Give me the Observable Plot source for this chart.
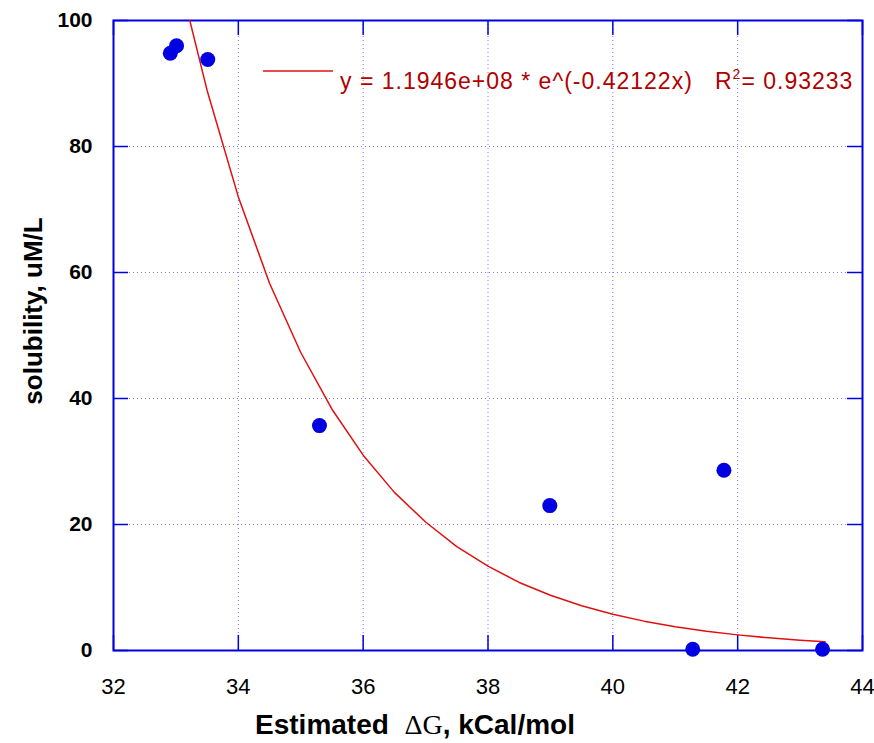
<!DOCTYPE html>
<html><head><meta charset="utf-8">
<script src="https://cdn.jsdelivr.net/npm/d3@7"></script>
<script src="https://cdn.jsdelivr.net/npm/@observablehq/plot@0.6"></script>
<style>body{margin:0;background:#fff}</style>
</head><body><div id="chart"></div>
<script>
// Observed points (Estimated ΔG, solubility)
const dG = [32.91, 33.01, 33.51, 35.30, 38.99, 41.78, 41.28, 43.36];
const solubility = [94.8, 96.0, 93.8, 35.7, 23.0, 28.6, 0.2, 0.2];
// Fitted curve
const fitX = [33.2, 33.5, 34, 34.5, 35, 35.5, 36, 36.5, 37, 37.5, 38, 38.5, 39, 39.5, 40, 40.5, 41, 41.5, 42, 42.5, 43, 43.4];
const fitY = [100.9, 88.9, 72.0, 58.3, 47.3, 38.3, 31.0, 25.1, 20.4, 16.5, 13.4, 10.8, 8.77, 7.10, 5.75, 4.66, 3.78, 3.06, 2.48, 2.01, 1.63, 1.37];
const xTicks = [32, 34, 36, 38, 40, 42, 44];
const yTicks = [0, 20, 40, 60, 80, 100];
const legendText = "y = 1.1946e+08 * e^(-0.42122x)   R";

const pts = dG.map((x, i) => ({x, y: solubility[i]}));
const fit = fitX.map((x, i) => ({x, y: fitY[i]}));
const blue = "#0000e0";
const xTickLen = 0.24, yTickLen = 2.4;

const chart = Plot.plot({
  width: 874, height: 743,
  marginLeft: 113, marginRight: 12, marginTop: 20, marginBottom: 93,
  x: {domain: [32, 44], ticks: xTicks, label: null},
  y: {domain: [0, 100], ticks: yTicks, label: null},
  style: {background: "#fff", overflow: "visible"},
  marks: [
    // dotted grid
    Plot.ruleX(xTicks.slice(1, -1), {stroke: "#6a6aff", strokeWidth: 1, strokeDasharray: "1,3", strokeOpacity: 0.9}),
    Plot.ruleY(yTicks.slice(1, -1), {stroke: "#6a6aff", strokeWidth: 1, strokeDasharray: "1,3", strokeOpacity: 0.9}),
    // inward ticks
    Plot.ruleX(xTicks, {y1: 0, y2: yTickLen, stroke: blue, strokeWidth: 1.5}),
    Plot.ruleX(xTicks, {y1: 100, y2: 100 - yTickLen, stroke: blue, strokeWidth: 1.5}),
    Plot.ruleY(yTicks, {x1: 32, x2: 32 + xTickLen, stroke: blue, strokeWidth: 1.5}),
    Plot.ruleY(yTicks, {x1: 44, x2: 44 - xTickLen, stroke: blue, strokeWidth: 1.5}),
    Plot.frame({stroke: blue, strokeWidth: 2}),
    Plot.axisX(xTicks, {tickSize: 0, tickPadding: 28, fontSize: 22, fill: "#000", label: null,
      fontFamily: "'Liberation Sans', Arial, sans-serif", fontWeight: "normal"}),
    Plot.axisY(yTicks, {tickSize: 0, tickPadding: 21, fontSize: 21, fill: "#000", label: null,
      fontFamily: "'Liberation Sans', Arial, sans-serif", fontWeight: "bold"}),
    Plot.line(fit, {x: "x", y: "y", stroke: "#e01010", strokeWidth: 1.5, clip: true}),
    Plot.dot(pts, {x: "x", y: "y", r: 7.5, fill: blue, stroke: "none"})
  ]
});

const svg = d3.select(chart);
// legend
const lg = svg.append("g");
lg.append("line").attr("x1", 263).attr("x2", 333).attr("y1", 71).attr("y2", 71)
  .attr("stroke", "#e01010").attr("stroke-width", 1.5);
const t = lg.append("text").attr("x", 340).attr("y", 89).attr("text-anchor", "start")
  .attr("fill", "#b00000").attr("font-size", 23).attr("letter-spacing", 1)
  .attr("font-family", "'Liberation Sans', Arial, sans-serif");
t.append("tspan").text(legendText.replace(/ /g, "\u00a0"));
t.append("tspan").attr("dy", -10).attr("font-size", 14).text("2");
t.append("tspan").attr("dy", 10).text("= 0.93233");
// axis titles
const xt = svg.append("text").attr("x", 415).attr("y", 734).attr("text-anchor", "middle")
  .attr("font-size", 28).attr("font-weight", "bold")
  .attr("font-family", "'Liberation Sans', Arial, sans-serif").attr("fill", "#000");
xt.append("tspan").text("Estimated\u00a0\u00a0");
xt.append("tspan").attr("font-family", "'Liberation Serif', 'Times New Roman', serif").attr("font-weight", "normal").text("\u0394G");
xt.append("tspan").text(", kCal/mol");
svg.append("text").attr("transform", "translate(42,311) rotate(-90)").attr("text-anchor", "middle")
  .attr("font-size", 26).attr("font-weight", "bold")
  .attr("font-family", "'Liberation Sans', Arial, sans-serif").attr("fill", "#000")
  .text("solubility, uM/L");

document.getElementById("chart").appendChild(chart);
</script></body></html>
